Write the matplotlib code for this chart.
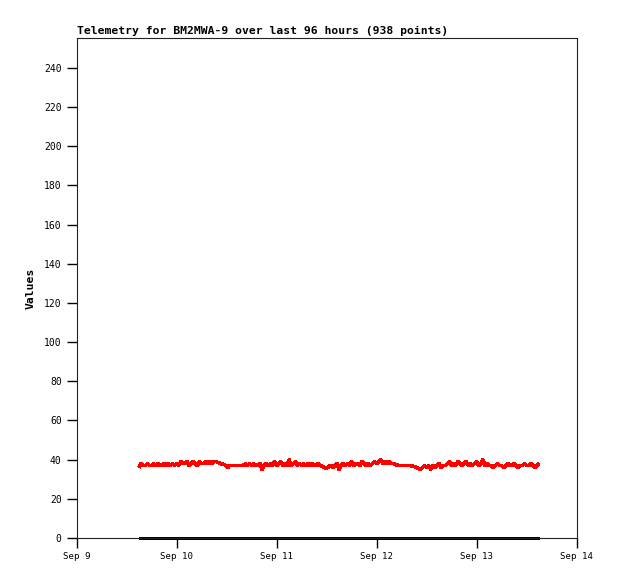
import numpy as np
import matplotlib
matplotlib.use("Agg")
import matplotlib.pyplot as plt

# telemetry, hours since first packet (Sep 9 ~14:53), value
hours = [0, 0.5, 1, 1.5, 2, 2.5, 3, 3.5, 4, 4.5, 5, 5.5, 6, 6.5, 7, 7.5, 8, 8.5,
         9, 9.5, 10, 10.5, 11, 11.5, 12, 12.5, 13, 13.5, 14, 14.5, 15, 15.5, 16, 16.5, 17,
         17.5, 18, 18.5, 19, 19.5, 20.5, 21.3, 21.6, 22.5, 24.5, 25,
         25.5, 26, 26.5, 27, 27.5, 28, 28.5, 29, 29.5, 30, 30.5, 31,
         31.5, 32, 32.5, 33, 33.5, 34, 34.5, 35, 35.5, 36, 36.5, 37, 37.5, 38, 38.5,
         39, 39.5, 40, 40.5, 41, 41.5, 42, 42.5, 43, 43.5,
         44.5, 45, 45.5, 46, 46.5, 47, 47.5, 48, 48.5, 49,
         49.5, 50, 50.5, 51, 51.5, 52, 52.5, 53, 53.5, 54, 54.5, 55, 55.5, 56, 56.5, 57,
         57.5, 58, 58.5, 59, 59.5, 60, 60.5, 61,
         61.5, 62.5, 64.5, 65, 66, 67, 67.5, 68, 68.5,
         69, 69.5, 70, 70.5, 71, 71.5, 72, 72.5, 73,
         73.5, 74, 74.5, 75, 75.5, 76, 76.5, 77, 77.5, 78, 78.5, 79, 79.5, 80, 80.5, 81,
         81.5, 82, 82.5, 83, 83.5, 84,
         84.5, 85, 85.5, 86, 86.5, 87, 87.5, 88, 88.5, 89, 89.5, 90, 90.5, 91, 91.5, 92,
         92.5, 93, 93.5, 94, 94.5, 95, 95.5, 96]
values = [36, 38, 37, 37, 38, 37, 37, 38, 37, 38, 37, 37, 38, 37, 38, 37, 38, 37,
          38, 37, 39, 38, 38, 39, 37, 38, 39, 38, 37, 39, 38, 38, 39, 38, 39,
          38, 39, 39, 38.5, 38, 37.5, 36, 37, 37, 37, 37,
          38, 37, 38, 37, 38, 37, 37, 38, 35, 37, 38, 37,
          38, 37, 39, 37, 38, 39, 37, 38, 37, 40, 37, 38, 39, 37, 38,
          37, 38, 37, 38, 37, 38, 37, 37, 38, 37,
          36, 35.5, 36.5, 37, 36, 37, 38, 35, 37, 38,
          37, 38, 37, 39, 37, 38, 38, 37, 39, 38, 37, 38, 37, 38, 39, 38,
          39, 40, 38, 39, 38, 39, 38, 38,
          37.5, 37, 37, 37, 36.5, 35.5, 35, 36, 37,
          36, 37, 35, 37, 36, 37, 38, 36, 37,
          37, 38, 39, 37, 38, 37, 39, 38, 37, 38, 39, 37, 38, 37, 38, 39,
          37, 38, 40, 37, 38, 37,
          37, 36, 37, 38, 37, 37, 36, 37, 38, 37, 37, 38, 37, 36, 37, 37,
          38, 37, 37, 38, 37, 36, 37, 38]
zero_hours = [0, 96]
zero_values = [0, 0]

start_day = 9 + 14.9 / 24  # Sep 9, 14:53
day_ticks = [9, 10, 11, 12, 13, 14]
day_labels = ["Sep 9", "Sep 10", "Sep 11", "Sep 12", "Sep 13", "Sep 14"]
y_ticks = [0, 20, 40, 60, 80, 100, 120, 140, 160, 180, 200, 220, 240]

x = start_day + np.array(hours) / 24.0
xz = start_day + np.array(zero_hours) / 24.0

fig = plt.figure(figsize=(6.18, 5.79), dpi=100)
ax = fig.add_axes([77 / 618, 41 / 579, 500 / 618, 500 / 579])

ax.plot(x, values, color="#ff0000", lw=1.9, antialiased=False, solid_capstyle="butt")
ax.plot(xz, zero_values, color="black", lw=2.0, antialiased=False, clip_on=False,
        solid_capstyle="butt")

ax.set_xlim(9, 14)
ax.set_ylim(0, 255.3)
ax.set_xticks(day_ticks)
ax.set_xticklabels(day_labels)
ax.set_yticks(y_ticks)

mono = "DejaVu Sans Mono"
for lab in ax.get_xticklabels():
    lab.set_family(mono)
    lab.set_fontsize(6.6)
for lab in ax.get_yticklabels():
    lab.set_family(mono)
    lab.set_fontsize(7)
ax.tick_params(direction="out", length=7, width=1, color="black", pad=4)
ax.tick_params(axis="x", pad=3)

for s in ax.spines.values():
    s.set_linewidth(0.8)
    s.set_color("#222222")

ax.set_title("Telemetry for BM2MWA-9 over last 96 hours (938 points)",
             loc="left", family=mono, fontweight="bold", fontsize=8.2, pad=3)
ax.set_ylabel("Values", family=mono, fontweight="bold", fontsize=8.2)
ax.yaxis.set_label_coords(-0.082, 0.5)

fig.savefig("out.png", dpi=100)
